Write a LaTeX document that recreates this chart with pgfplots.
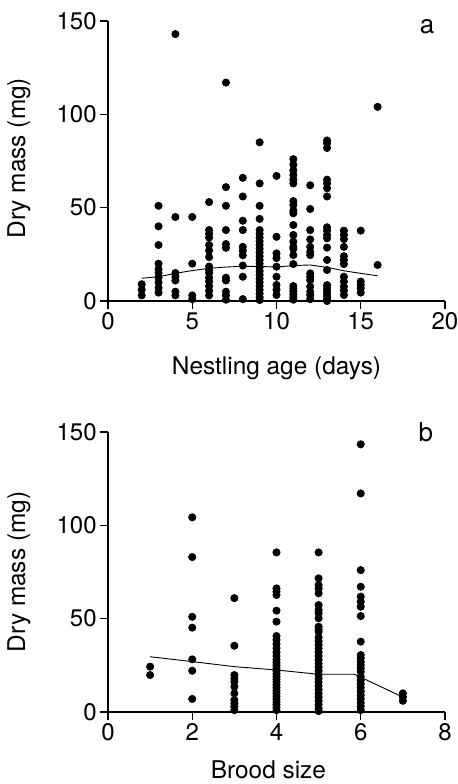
\documentclass[border=0pt]{standalone}
\usepackage{fontspec}
\setmainfont{TeX Gyre Heros}
\usepackage{pgfplots}
\pgfplotsset{compat=1.18}
\begin{document}
\begin{tikzpicture}
\path[use as bounding box] (0pt,0pt) rectangle (229pt,392pt);
\pgfplotsset{
 myax/.style={
  scale only axis, width=168.5pt, height=140pt,
  axis lines=left, axis line style={-, line width=0.6pt},
  tick align=outside, major tick length=4pt, tick style={line width=0.6pt, black},
  ymin=0, ymax=150, ytick={0,50,100,150},
  /pgf/number format/assume math mode=true,
  ticklabel style={font=\fontsize{12}{14}\selectfont, inner sep=1.5pt},
  label style={font=\fontsize{12.2}{14}\selectfont},
  ylabel={Dry mass (mg)},
  clip=false,
 },
 dots/.style={only marks, mark=*, mark size=1.8pt, black},
 trend/.style={black, line width=0.45pt, mark=none},
}
% ---------------- panel a ----------------
\begin{axis}[myax, at={(54pt,241.5pt)}, anchor=south west,
  xmin=0, xmax=20, xtick={0,5,10,15,20},
  xlabel={Nestling age (days)},
  xlabel style={at={(axis description cs:0.5,-0.261)}, anchor=base},
  ylabel style={at={(axis description cs:-0.246,0.51)}, anchor=base}]
\addplot[dots] coordinates {
(2,9)(2,6)(2,3)
(3,51)(3,40)(3,30)(3,20)(3,17)(3,15)(3,12.5)(3,10)(3,7)(3,4.5)
(4,143)(4,45)(4,15)(4,13)(4,11)(4,5)(4,3)
(5,45)(5,20)(5,3)(5,1)
(6,53)(6,38)(6,36)(6,34)(6,30)(6,27)(6,23.5)(6,18.5)(6,16.5)(6,15)(6,12.5)(6,10.5)(6,8)(6,5.5)(6,3)
(7,117)(7,61)(7,51)(7,38)(7,30.5)(7,28.5)(7,12.5)(7,11)(7,5)(7,3)(7,0.7)
(8,66)(8,56)(8,43)(8,38)(8,29)(8,27)(8,24.5)(8,19)(8,13)(8,1)
(9,85)(9,63)(9,51)(9,44)(9,38)(9,36)(9,34)(9,32)(9,30)(9,28)(9,26)(9,24)(9,22)(9,20)(9,18)(9,16)(9,14)(9,12)(9,10)(9,8)(9,6)(9,4)(9,2)(9,0.5)
(10,67)(10,34.4)(10,25.5)(10,23)(10,18.4)(10,13)(10,8.6)(10,6)(10,3.2)
(11,76)(11,73)(11,70)(11,67.5)(11,65)(11,63)(11,53.5)(11,51.5)(11,48.5)(11,47)(11,40.7)(11,35.4)(11,31.8)(11,29)(11,28)(11,24.6)(11,19.8)(11,8)(11,6.5)(11,5)(11,3.5)(11,2)(11,0.7)
(12,62)(12,49.3)(12,38)(12,33)(12,29)(12,26.4)(12,24.6)(12,14.8)(12,13)(12,11.2)(12,7.7)(12,5)(12,3.2)(12,1)
(13,86)(13,84.5)(13,82)(13,65)(13,63)(13,60.4)(13,56)(13,39.5)(13,37.7)(13,35.4)(13,33.6)(13,28.6)(13,22)(13,16.6)(13,8.5)(13,7)(13,5.5)(13,4)(13,2.5)(13,1)(13,0)
(14,37.7)(14,35.4)(14,33.2)(14,29)(14,24)(14,22)(14,19.8)(14,13)(14,10.4)(14,7.7)(14,5.6)(14,3.2)
(15,37.7)(15,10.4)(15,8.6)(15,6.8)(15,4.5)
(16,104)(16,19.3)
};
\addplot[trend] coordinates {
(2,12.2)(3,13)(4,14.8)(5,16.3)(6,17.5)(7,18.2)(8,18.6)(9,18.5)(10,18.2)(11,19)(12,19.3)(13,18)(14,16.2)(15,14.8)(16,13.5)
};
\node[font=\fontsize{13}{15}\selectfont] at (axis description cs:0.947,0.979) {a};
\end{axis}
% ---------------- panel b ----------------
\begin{axis}[myax, at={(54pt,36pt)}, anchor=south west,
  xmin=0, xmax=8, xtick={0,2,4,6,8},
  xlabel={Brood size},
  xlabel style={at={(axis description cs:0.476,-0.237)}, anchor=base},
  ylabel style={at={(axis description cs:-0.246,0.5)}, anchor=base}]
\addplot[dots] coordinates {
(1,24.3)(1,19.8)
(2,104.3)(2,83)(2,51)(2,45.2)(2,28.2)(2,22.1)(2,7)
(3,61)(3,35.5)(3,19.8)(3,18)(3,16.2)(3,13.6)(3,10)(3,6.4)(3,4.6)(3,2.8)(3,1)
(4,85.5)(4,66.2)(4,64.4)(4,62.7)(4,54.3)(4,48.4)(4,40.7)(4,38.6)(4,36.4)(4,34.1)(4,32)(4,30)(4,28)(4,26.5)(4,25)(4,23.5)(4,22)(4,20.5)(4,19)(4,17.5)(4,16)(4,14.5)(4,13)(4,11.5)(4,10)(4,8.5)(4,7)(4,5.5)(4,4)(4,2.5)(4,1)
(5,85.5)(5,71.6)(5,68)(5,66.2)(5,63.6)(5,57.3)(5,54.6)(5,52.9)(5,50.2)(5,45.7)(5,44.3)(5,43)(5,40)(5,38)(5,36)(5,34)(5,32)(5,30)(5,28)(5,26)(5,24)(5,22)(5,20)(5,18)(5,16)(5,14)(5,12)(5,10)(5,8)(5,6)(5,4)(5,2)(5,0.5)
(6,143.4)(6,117.1)(6,76)(6,67.1)(6,61.8)(6,59.1)(6,56.4)(6,51.4)(6,37.7)(6,30.5)(6,28.8)(6,26.9)(6,25.2)(6,23.4)(6,21.6)(6,18.9)(6,17)(6,15)(6,13)(6,11)(6,9)(6,7)(6,5)(6,3)(6,1)
(7,10)(7,8)(7,6)
};
\addplot[trend] coordinates {
(1,29.6)(2,27)(3,24.3)(4,22.5)(5,20.2)(5.85,20.2)(7,8)
};
\node[font=\fontsize{13}{15}\selectfont] at (axis description cs:0.943,1.0) {b};
\end{axis}
\end{tikzpicture}
\end{document}
